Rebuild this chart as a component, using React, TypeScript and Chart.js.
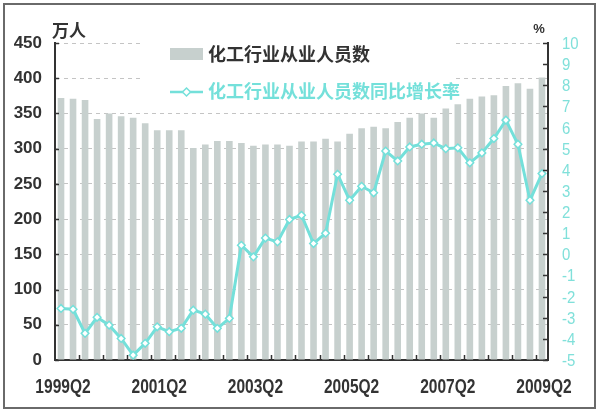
import React, { useEffect, useRef } from 'react';
import { Chart, registerables } from 'chart.js';

Chart.register(...registerables);

const quarters = [
  '1999Q2', '1999Q3', '1999Q4',
  '2000Q1', '2000Q2', '2000Q3', '2000Q4',
  '2001Q1', '2001Q2', '2001Q3', '2001Q4',
  '2002Q1', '2002Q2', '2002Q3', '2002Q4',
  '2003Q1', '2003Q2', '2003Q3', '2003Q4',
  '2004Q1', '2004Q2', '2004Q3', '2004Q4',
  '2005Q1', '2005Q2', '2005Q3', '2005Q4',
  '2006Q1', '2006Q2', '2006Q3', '2006Q4',
  '2007Q1', '2007Q2', '2007Q3', '2007Q4',
  '2008Q1', '2008Q2', '2008Q3', '2008Q4',
  '2009Q1', '2009Q2',
];

const employment = [
  372, 371, 369, 342, 350, 346, 344, 336, 326, 326, 326,
  301, 306, 311, 311, 308, 304, 306, 306, 304, 310,
  310, 314, 310, 321, 329, 331, 329, 338, 344, 350,
  344, 357, 363, 371, 374, 376, 389, 393, 385, 401,
];

const growthRate = [
  -2.56, -2.6, -3.74, -2.98, -3.35, -3.98, -4.77, -4.21, -3.43, -3.66, -3.5,
  -2.64, -2.83, -3.5, -3.03, 0.43, -0.12, 0.77, 0.59, 1.65, 1.85,
  0.51, 1.0, 3.79, 2.56, 3.22, 2.91, 4.89, 4.42, 5.08, 5.21,
  5.27, 5.0, 5.04, 4.33, 4.8, 5.48, 6.35, 5.21, 2.56, 3.82,
];

const barLabel = '化工行业从业人员数';
const lineLabel = '化工行业从业人员数同比增长率';
const leftUnit = '万人';
const rightUnit = '%';

const BAR_COLOR = '#c7d0ce';
const LINE_COLOR = '#74e0da';
const RIGHT_TEXT = '#80e0da';
const DARK = '#333333';

const decorPlugin = {
  id: 'decor',
  afterDraw(chart: any) {
    const { ctx, chartArea: a, scales } = chart;
    const xs = scales.x;
    const ys = scales.y;
    const y1 = scales.y1;
    ctx.save();
    ctx.strokeStyle = DARK;
    ctx.lineWidth = 1.5;
    const seg = (x1: number, yA: number, x2: number, yB: number) => {
      ctx.beginPath();
      ctx.moveTo(x1, yA);
      ctx.lineTo(x2, yB);
      ctx.stroke();
    };
    for (const t of ys.ticks) {
      const py = Math.round(ys.getPixelForValue(t.value)) + 0.5;
      seg(a.left, py, a.left + 4, py);
    }
    for (const t of y1.ticks) {
      const py = Math.round(y1.getPixelForValue(t.value)) + 0.5;
      seg(a.right - 5, py, a.right, py);
    }
    for (let i = 2; i < quarters.length; i += 2) {
      const px = Math.round((xs.getPixelForValue(i - 1) + xs.getPixelForValue(i)) / 2) + 0.5;
      seg(px, a.bottom, px, a.bottom - 5);
    }

    // x tick labels (condensed)
    ctx.fillStyle = DARK;
    ctx.font = 'bold 21px "Liberation Sans", sans-serif';
    ctx.textAlign = 'center';
    ctx.textBaseline = 'alphabetic';
    for (let i = 0; i < quarters.length; i += 8) {
      const cx = xs.getPixelForValue(i) + 2;
      ctx.save();
      ctx.translate(cx, a.bottom + 33);
      ctx.scale(0.74, 1);
      ctx.fillText(quarters[i], 0, 0);
      ctx.restore();
    }

    // right tick labels (condensed)
    ctx.fillStyle = RIGHT_TEXT;
    ctx.font = '17px "Liberation Sans", sans-serif';
    ctx.textAlign = 'left';
    for (const t of y1.ticks) {
      const py = y1.getPixelForValue(t.value);
      ctx.save();
      ctx.translate(a.right + 14, py + 6);
      ctx.scale(0.88, 1);
      ctx.fillText(String(t.value), 0, 0);
      ctx.restore();
    }

    // legend box
    ctx.fillStyle = '#ffffff';
    ctx.fillRect(140, 30, 316, 70);
    ctx.fillStyle = BAR_COLOR;
    ctx.fillRect(170, 48, 33, 12);
    ctx.textBaseline = 'middle';
    ctx.textAlign = 'left';
    ctx.fillStyle = DARK;
    ctx.font = 'bold 18px "Noto Sans CJK SC", sans-serif';
    ctx.fillText(barLabel, 208, 54);

    ctx.strokeStyle = LINE_COLOR;
    ctx.lineWidth = 2.5;
    seg(170, 92, 203, 92);
    ctx.beginPath();
    ctx.moveTo(186.5, 88);
    ctx.lineTo(190.5, 92);
    ctx.lineTo(186.5, 96);
    ctx.lineTo(182.5, 92);
    ctx.closePath();
    ctx.fillStyle = '#ffffff';
    ctx.fill();
    ctx.lineWidth = 1.5;
    ctx.stroke();
    ctx.fillStyle = LINE_COLOR;
    ctx.font = 'bold 18px "Noto Sans CJK SC", sans-serif';
    ctx.fillText(lineLabel, 208, 91);

    // units
    ctx.fillStyle = DARK;
    ctx.font = 'bold 17px "Noto Sans CJK SC", sans-serif';
    ctx.fillText(leftUnit, 52, 31);
    ctx.textAlign = 'center';
    ctx.font = 'bold 13px "Liberation Sans", sans-serif';
    ctx.fillText(rightUnit, 539, 29);
    ctx.restore();
  },
};

export default function App() {
  const canvasRef = useRef<HTMLCanvasElement | null>(null);

  useEffect(() => {
    if (!canvasRef.current) return;
    const chart = new Chart(canvasRef.current, {
      type: 'bar',
      data: {
        labels: quarters,
        datasets: [
          {
            type: 'line',
            label: lineLabel,
            data: growthRate,
            yAxisID: 'y1',
            borderColor: LINE_COLOR,
            borderWidth: 3,
            tension: 0,
            pointStyle: 'rectRot',
            pointRadius: 3.8,
            pointBackgroundColor: '#ffffff',
            pointBorderColor: LINE_COLOR,
            pointBorderWidth: 1.5,
            order: 1,
          } as any,
          {
            type: 'bar',
            label: barLabel,
            data: employment,
            yAxisID: 'y',
            backgroundColor: BAR_COLOR,
            barPercentage: 0.55,
            categoryPercentage: 1.0,
            order: 2,
          },
        ],
      },
      options: {
        responsive: false,
        animation: false,
        devicePixelRatio: 1,
        layout: { padding: { top: 43, left: 0, right: 0, bottom: 0 } },
        plugins: {
          legend: { display: false },
          tooltip: { enabled: false },
        },
        scales: {
          x: {
            type: 'category',
            offset: true,
            grid: { display: false, drawTicks: false },
            border: { display: true, color: DARK, width: 2 },
            ticks: { display: false, autoSkip: false },
            afterFit: (s: any) => { s.height = 54; },
          },
          y: {
            position: 'left',
            min: 0,
            max: 450,
            ticks: {
              stepSize: 50,
              padding: 13,
              color: DARK,
              font: { family: '"Liberation Sans", sans-serif', size: 17, weight: 'bold' },
            },
            grid: { color: '#c4c4c4', lineWidth: 1, drawTicks: false },
            border: { display: true, color: DARK, width: 2, dash: [4, 4] },
            afterFit: (s: any) => { s.width = 55; },
          },
          y1: {
            position: 'right',
            min: -5,
            max: 10,
            ticks: { display: false, stepSize: 1, autoSkip: false },
            grid: { display: false, drawTicks: false },
            border: { display: true, color: DARK, width: 2 },
            afterFit: (s: any) => { s.width = 52; },
          },
        },
      } as any,
      plugins: [decorPlugin],
    });
    return () => chart.destroy();
  }, []);

  return (
    <div style={{ position: 'fixed', left: 0, top: 0, width: 600, height: 414, background: '#ffffff' }}>
      <canvas ref={canvasRef} width={600} height={414} style={{ width: 600, height: 414, display: 'block' }} />
      <div
        style={{
          position: 'absolute', left: 3, top: 3, width: 593, height: 406,
          boxSizing: 'border-box', border: '2px solid #6a6a6a', pointerEvents: 'none',
        }}
      />
    </div>
  );
}
